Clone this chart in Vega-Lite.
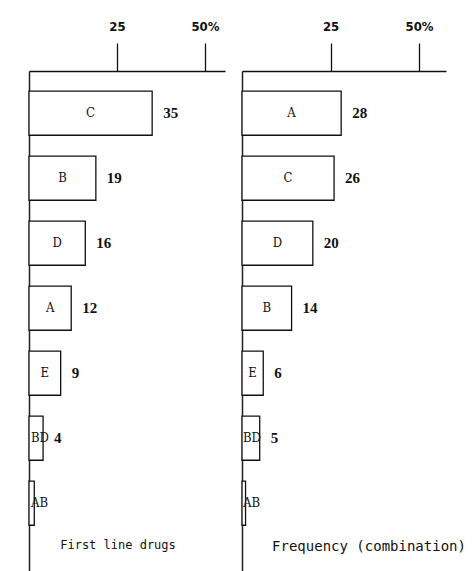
{
  "$schema": "https://vega.github.io/schema/vega-lite/v6.json",
  "background": "white",
  "padding": {"left": 28, "top": 20, "right": 0, "bottom": 0},
  "spacing": 16,
  "datasets": {
    "first": [
      {"drug": "C", "value": 35, "label": "35"},
      {"drug": "B", "value": 19, "label": "19"},
      {"drug": "D", "value": 16, "label": "16"},
      {"drug": "A", "value": 12, "label": "12"},
      {"drug": "E", "value": 9, "label": "9"},
      {"drug": "BD", "value": 4, "label": "4"},
      {"drug": "AB", "value": 1.5, "label": ""}
    ],
    "combo": [
      {"drug": "A", "value": 28, "label": "28"},
      {"drug": "C", "value": 26, "label": "26"},
      {"drug": "D", "value": 20, "label": "20"},
      {"drug": "B", "value": 14, "label": "14"},
      {"drug": "E", "value": 6, "label": "6"},
      {"drug": "BD", "value": 5, "label": "5"},
      {"drug": "AB", "value": 1, "label": ""}
    ]
  },
  "hconcat": [
    {
      "width": 196,
      "height": 501,
      "data": {"name": "first"},
      "title": {"text": "First line drugs", "orient": "bottom", "offset": -32, "anchor": "middle", "dx": -9, "font": "DejaVu Sans Mono", "fontSize": 12, "fontWeight": "normal", "color": "#111"},
      "encoding": {
        "y": {"field": "drug", "type": "nominal", "sort": null,
          "scale": {"paddingInner": 0.32, "paddingOuter": 0.514, "align": 0.3},
          "axis": {"title": null, "labels": false, "ticks": false, "grid": false, "domainColor": "#222", "domainWidth": 1.5}}
      },
      "layer": [
        {
          "mark": {"type": "bar", "fill": "white", "stroke": "#111", "strokeWidth": 1.3},
          "encoding": {
            "x": {"field": "value", "type": "quantitative", "scale": {"domain": [0, 55.7], "nice": false},
              "axis": {"orient": "top", "values": [25, 50], "tickSize": 28, "labelPadding": 10, "labelExpr": "datum.value == 50 ? '50%' : '25'", "grid": false, "title": null, "domainColor": "#111", "domainWidth": 1.5, "tickColor": "#111", "tickWidth": 1.3, "labelFont": "DejaVu Sans Condensed", "labelFontWeight": "bold", "labelFontSize": 13, "labelColor": "#111"}}
          }
        },
        {
          "transform": [{"filter": {"field": "value", "gte": 5.5}}],
          "mark": {"type": "text", "font": "DejaVu Serif Condensed", "fontSize": 13, "align": "center", "color": "#111"},
          "encoding": {
            "x": {"field": "value", "type": "quantitative", "scale": {"domain": [0, 111.4], "nice": false}, "axis": null},
            "text": {"field": "drug"}
          }
        },
        {
          "transform": [{"filter": {"field": "value", "lt": 5.5}}],
          "mark": {"type": "text", "font": "DejaVu Serif Condensed", "fontSize": 13, "align": "left", "dx": 2, "color": "#111"},
          "encoding": {
            "x": {"datum": 0, "type": "quantitative", "scale": {"domain": [0, 55.7], "nice": false}, "axis": null},
            "text": {"field": "drug"}
          }
        },
        {
          "mark": {"type": "text", "font": "Liberation Serif", "fontSize": 15, "fontWeight": "bold", "align": "left", "dx": 11, "color": "#111"},
          "encoding": {
            "x": {"field": "value", "type": "quantitative", "scale": {"domain": [0, 55.7], "nice": false}, "axis": null},
            "text": {"field": "label"}
          }
        }
      ],
      "resolve": {"scale": {"x": "independent"}}
    },
    {
      "width": 204,
      "height": 501,
      "data": {"name": "combo"},
      "title": {"text": "Frequency (combination)", "orient": "bottom", "offset": -32, "anchor": "middle", "dx": 25, "font": "DejaVu Sans Mono", "fontSize": 14, "fontWeight": "normal", "color": "#111"},
      "encoding": {
        "y": {"field": "drug", "type": "nominal", "sort": null,
          "scale": {"paddingInner": 0.32, "paddingOuter": 0.514, "align": 0.3},
          "axis": {"title": null, "labels": false, "ticks": false, "grid": false, "domainColor": "#222", "domainWidth": 1.5}}
      },
      "layer": [
        {
          "mark": {"type": "bar", "fill": "white", "stroke": "#111", "strokeWidth": 1.3},
          "encoding": {
            "x": {"field": "value", "type": "quantitative", "scale": {"domain": [0, 57.6], "nice": false},
              "axis": {"orient": "top", "values": [25, 50], "tickSize": 28, "labelPadding": 10, "labelExpr": "datum.value == 50 ? '50%' : '25'", "grid": false, "title": null, "domainColor": "#111", "domainWidth": 1.5, "tickColor": "#111", "tickWidth": 1.3, "labelFont": "DejaVu Sans Condensed", "labelFontWeight": "bold", "labelFontSize": 13, "labelColor": "#111"}}
          }
        },
        {
          "transform": [{"filter": {"field": "value", "gte": 5.5}}],
          "mark": {"type": "text", "font": "DejaVu Serif Condensed", "fontSize": 13, "align": "center", "color": "#111"},
          "encoding": {
            "x": {"field": "value", "type": "quantitative", "scale": {"domain": [0, 115.2], "nice": false}, "axis": null},
            "text": {"field": "drug"}
          }
        },
        {
          "transform": [{"filter": {"field": "value", "lt": 5.5}}],
          "mark": {"type": "text", "font": "DejaVu Serif Condensed", "fontSize": 13, "align": "left", "dx": 1, "color": "#111"},
          "encoding": {
            "x": {"datum": 0, "type": "quantitative", "scale": {"domain": [0, 57.6], "nice": false}, "axis": null},
            "text": {"field": "drug"}
          }
        },
        {
          "mark": {"type": "text", "font": "Liberation Serif", "fontSize": 15, "fontWeight": "bold", "align": "left", "dx": 11, "color": "#111"},
          "encoding": {
            "x": {"field": "value", "type": "quantitative", "scale": {"domain": [0, 57.6], "nice": false}, "axis": null},
            "text": {"field": "label"}
          }
        }
      ],
      "resolve": {"scale": {"x": "independent"}}
    }
  ],
  "config": {"view": {"stroke": null}}
}
